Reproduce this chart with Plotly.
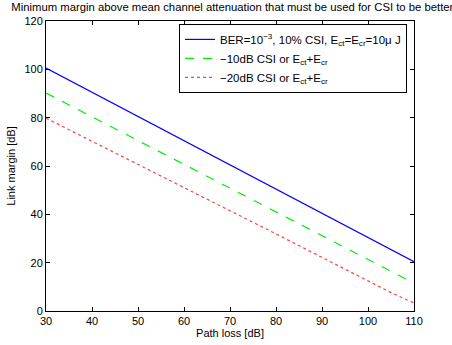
import plotly.graph_objects as go

path_loss = [30, 40, 50, 60, 70, 80, 90, 100, 105, 110]
margin_ber = [100.5, 90.5, 80.5, 70.5, 60.5, 50.5, 40.5, 30.5, 25.5, 20.4]
margin_10db = [90.2, 80.4, 70.6, 60.8, 51.0, 41.2, 31.4, 21.4, 16.5, 11.5]
margin_20db = [79.8, 70.3, 60.7, 51.1, 41.5, 31.9, 22.2, 12.3, 7.6, 3.3]

names = [
    "BER=10<sup>\u22123</sup>, 10% CSI, E<sub>ct</sub>=E<sub>cr</sub>=10\u03bc J",
    "\u221210dB CSI or E<sub>ct</sub>+E<sub>cr</sub>",
    "\u221220dB CSI or E<sub>ct</sub>+E<sub>cr</sub>",
]

FONT = "Liberation Sans, Arial, Helvetica, sans-serif"

fig = go.Figure()
fig.add_trace(go.Scatter(x=path_loss, y=margin_ber, mode="lines", name=names[0],
                         line=dict(color="#0000ff", width=1.2, dash="solid")))
fig.add_trace(go.Scatter(x=path_loss, y=margin_10db, mode="lines", name=names[1],
                         line=dict(color="#00ee00", width=1.2, dash="dash")))
fig.add_trace(go.Scatter(x=path_loss, y=margin_20db, mode="lines", name=names[2],
                         line=dict(color="#ff4040", width=1.2, dash="dot")))

axis_common = dict(
    showgrid=False, zeroline=False, showline=True, linecolor="black", linewidth=1,
    mirror="ticks", ticks="inside", ticklen=4, tickcolor="black", tickwidth=1,
    tickfont=dict(family=FONT, size=11, color="black"), automargin=False,
)

fig.update_layout(
    width=452, height=345,
    margin=dict(l=46, r=38, t=21, b=34),
    paper_bgcolor="white", plot_bgcolor="white",
    font=dict(family=FONT, size=11, color="black"),
    title=dict(text="Minimum margin above mean channel attenuation that must be used for CSI to be better",
               x=0.514, xanchor="center", xref="container", y=0.98, yanchor="middle",
               yref="container", font=dict(family=FONT, size=11.3, color="black"),
               automargin=False),
    xaxis=dict(range=[30, 110], tickvals=[30, 40, 50, 60, 70, 80, 90, 100, 110],
               title=dict(text="Path loss [dB]", standoff=0, font=dict(family=FONT, size=11)),
               **axis_common),
    yaxis=dict(range=[0, 120], tickvals=[0, 20, 40, 60, 80, 100, 120],
               title=dict(text="Link margin [dB]", standoff=6, font=dict(family=FONT, size=11)),
               **axis_common),
    legend=dict(x=0.981, xanchor="right", y=0.99, yanchor="top",
                bgcolor="white", bordercolor="black", borderwidth=1,
                font=dict(family=FONT, size=11.5), tracegroupgap=0, itemwidth=30),
    showlegend=True,
)

fig.write_html("out.html", config={"displayModeBar": False},
               post_script="document.body.style.margin='0px';document.body.style.overflow='hidden';")
